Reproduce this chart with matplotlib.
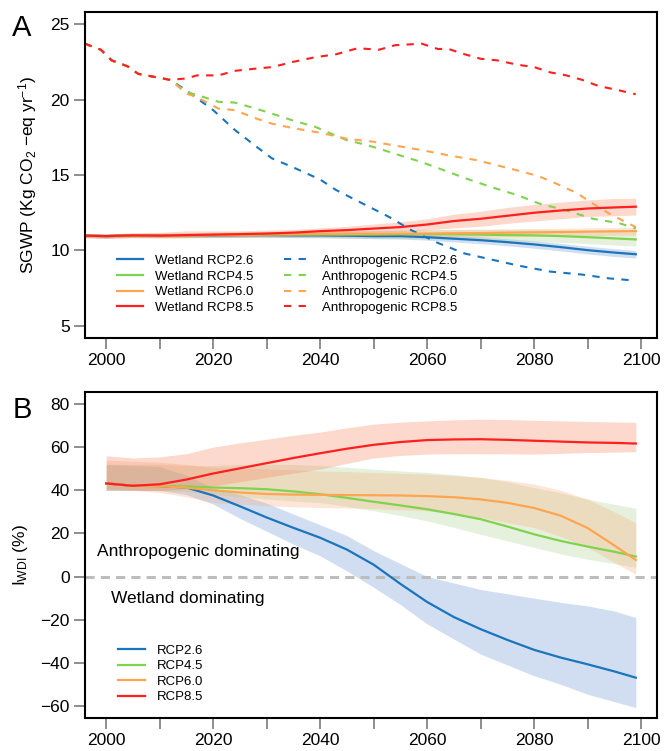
import numpy as np
import matplotlib
matplotlib.use("Agg")
import matplotlib.pyplot as plt
from matplotlib.ticker import MultipleLocator, FuncFormatter

plt.rcParams['font.family'] = ['Liberation Sans', 'DejaVu Sans']
plt.rcParams['mathtext.fontset'] = 'custom'
plt.rcParams['mathtext.rm'] = 'Liberation Sans'
plt.rcParams['mathtext.it'] = 'Liberation Sans:italic'
plt.rcParams['mathtext.bf'] = 'Liberation Sans:bold'

## ---- Panel A data (SGWP) ----
# shared anthropogenic path before the scenarios split
shared_yr = [1996, 1999, 2001, 2004, 2006, 2009]
shared_val = [23.7, 23.3, 22.6, 22.2, 21.7, 21.5]

anth85_yr = [2012, 2015, 2017, 2021, 2024, 2028, 2031, 2035, 2039, 2043, 2047, 2051, 2054,
             2059, 2062, 2064, 2067, 2070, 2073, 2077, 2080, 2083, 2086, 2089, 2092, 2096, 2099]
anth85 = [21.3, 21.4, 21.6, 21.6, 21.9, 22.05, 22.15, 22.5, 22.8, 23.0, 23.4, 23.3, 23.6,
          23.7, 23.35, 23.35, 23.0, 22.7, 22.6, 22.3, 22.15, 21.8, 21.6, 21.3, 20.9, 20.6, 20.35]

anth26_yr = [2012, 2015, 2020, 2024, 2028, 2031, 2035, 2040, 2043, 2048, 2053, 2057, 2062,
             2067, 2072, 2077, 2083, 2089, 2094, 2099]
anth26 = [21.3, 20.6, 19.3, 18.0, 16.9, 16.1, 15.5, 14.7, 14.0, 13.1, 12.2, 11.35, 10.5,
          9.8, 9.4, 9.0, 8.6, 8.4, 8.15, 8.0]

anth45_yr = [2012, 2015, 2017, 2021, 2024, 2028, 2032, 2035, 2039, 2042, 2045, 2048, 2051,
             2054, 2059, 2064, 2067, 2072, 2077, 2081, 2086, 2091, 2096, 2099]
anth45 = [21.3, 20.5, 20.3, 19.85, 19.8, 19.4, 18.95, 18.6, 18.2, 17.75, 17.3, 17.05, 16.75,
          16.4, 15.85, 15.2, 14.8, 14.2, 13.65, 13.1, 12.65, 12.1, 11.8, 11.45]

anth60_yr = [2012, 2015, 2017, 2021, 2024, 2028, 2031, 2035, 2040, 2045, 2050, 2054, 2059,
             2064, 2069, 2073, 2078, 2081, 2084, 2088, 2091, 2094, 2097, 2099]
anth60 = [21.3, 20.4, 20.15, 19.4, 19.3, 18.75, 18.4, 18.1, 17.8, 17.4, 17.2, 16.95, 16.65,
          16.3, 16.0, 15.65, 15.2, 14.9, 14.45, 13.8, 13.1, 12.45, 11.9, 11.55]

wet_yr = [1996, 2000, 2005, 2010, 2015, 2020, 2025, 2030, 2035, 2040, 2045, 2050, 2055,
          2060, 2065, 2070, 2075, 2080, 2085, 2090, 2095, 2099]
wet26 = [10.98, 10.95, 11.0, 10.98, 11.0, 11.0, 11.02, 11.02, 11.0, 11.0, 10.98, 10.95, 10.95,
         10.88, 10.78, 10.68, 10.55, 10.4, 10.22, 10.02, 9.86, 9.75]
wet26_hi = [11.1, 11.07, 11.12, 11.1, 11.12, 11.13, 11.15, 11.15, 11.13, 11.14, 11.13, 11.1, 11.12,
            11.06, 10.98, 10.9, 10.78, 10.64, 10.47, 10.28, 10.12, 10.0]
wet26_lo = [10.86, 10.83, 10.88, 10.86, 10.88, 10.87, 10.88, 10.88, 10.86, 10.85, 10.82, 10.78, 10.76,
            10.68, 10.56, 10.45, 10.31, 10.15, 9.97, 9.77, 9.6, 9.5]

wet45 = [10.98, 10.95, 11.0, 10.98, 11.0, 11.02, 11.03, 11.05, 11.05, 11.05, 11.05, 11.05, 11.07,
         11.08, 11.07, 11.05, 11.02, 11.0, 10.95, 10.88, 10.8, 10.73]
wet45_hi = [11.12, 11.1, 11.15, 11.15, 11.17, 11.2, 11.22, 11.25, 11.27, 11.28, 11.3, 11.32, 11.35,
            11.38, 11.4, 11.4, 11.4, 11.4, 11.38, 11.33, 11.27, 11.22]
wet45_lo = [10.85, 10.82, 10.85, 10.83, 10.84, 10.85, 10.85, 10.85, 10.84, 10.83, 10.81, 10.79, 10.78,
            10.77, 10.73, 10.69, 10.64, 10.6, 10.53, 10.45, 10.36, 10.28]

wet60 = [10.98, 10.95, 11.0, 10.98, 11.0, 11.02, 11.05, 11.07, 11.08, 11.1, 11.1, 11.1, 11.12,
         11.12, 11.14, 11.15, 11.18, 11.2, 11.22, 11.25, 11.27, 11.28]
wet60_hi = [11.12, 11.1, 11.15, 11.14, 11.17, 11.2, 11.23, 11.26, 11.28, 11.3, 11.31, 11.32, 11.35,
            11.36, 11.38, 11.4, 11.43, 11.45, 11.47, 11.5, 11.52, 11.53]
wet60_lo = [10.85, 10.82, 10.86, 10.83, 10.84, 10.85, 10.87, 10.88, 10.88, 10.89, 10.88, 10.87, 10.88,
            10.87, 10.88, 10.89, 10.92, 10.93, 10.95, 10.98, 11.0, 11.02]

wet85 = [10.98, 10.95, 11.0, 10.98, 11.02, 11.05, 11.08, 11.12, 11.18, 11.28, 11.35, 11.45, 11.55,
         11.72, 11.95, 12.1, 12.3, 12.5, 12.65, 12.78, 12.85, 12.9]
wet85_hi = [11.1, 11.1, 11.15, 11.2, 11.3, 11.3, 11.3, 11.35, 11.4, 11.5, 11.6, 11.75, 11.9,
            12.1, 12.4, 12.6, 12.85, 13.05, 13.2, 13.35, 13.45, 13.45]
wet85_lo = [10.85, 10.8, 10.85, 10.85, 10.85, 10.9, 10.9, 10.95, 11.0, 11.05, 11.1, 11.2, 11.25,
            11.35, 11.5, 11.6, 11.8, 11.95, 12.1, 12.25, 12.3, 12.35]

## ---- Panel B data (I_WDI, %) ----
yr_b = [2000, 2005, 2010, 2015, 2020, 2025, 2030, 2035, 2040, 2045, 2050, 2055, 2060,
        2065, 2070, 2075, 2080, 2085, 2090, 2095, 2099]
b26 = [43.2, 42.1, 42.0, 41.3, 37.6, 32.6, 27.4, 22.6, 18.0, 12.5, 5.5, -3.4, -11.8,
       -18.8, -24.4, -29.4, -34.0, -37.6, -40.7, -44, -46.9]
b26_hi = [52, 51.5, 51, 47, 41, 38, 34, 29, 24, 19, 12, 6, 0,
          -3, -6, -8, -10, -12, -13.6, -16, -19]
b26_lo = [40, 40, 40, 38, 33.6, 27, 21, 15, 9.6, 2.6, -5, -13, -22,
          -29, -36, -41, -46, -50, -54.6, -58, -60.8]

b45 = [43.2, 42.1, 42.0, 41.8, 41.3, 41.0, 40.5, 39.5, 38.2, 36.5, 34.7, 33.0, 31.2,
       29.0, 26.6, 23.2, 19.6, 16.5, 13.9, 11.5, 9.3]
b45_hi = [52, 52, 52, 51.5, 51.5, 52, 52, 52, 51.5, 50.7, 49.8, 49, 48.3,
          47.3, 46, 44, 41.3, 38.8, 35.9, 33.5, 31.7]
b45_lo = [40, 40, 40, 39.5, 38, 37, 35.9, 35, 34.3, 32.5, 30.5, 28.3, 25.8,
          22.8, 19.6, 16.5, 13.5, 10.5, 8, 6, 4.2]

b60 = [43.2, 42.1, 42.0, 41.2, 40.0, 39.0, 38.3, 38.0, 37.9, 37.8, 37.7, 37.6, 37.3,
       36.8, 35.8, 34.2, 31.8, 28.2, 22.5, 14.4, 7.7]
b60_hi = [54, 53.5, 53, 52, 50.6, 50.3, 50, 49.5, 49, 48.7, 48.3, 47.9, 47.5,
          46.8, 46, 44.6, 42.9, 40, 35.9, 30, 25]
b60_lo = [40, 40, 39, 37, 34.3, 33.5, 32.8, 32.4, 32, 31.8, 31.5, 31, 30.5,
          29, 27.4, 25, 22.7, 18.5, 13.5, 6.5, 1]

b85 = [43.2, 42.1, 42.8, 45.0, 47.8, 50.2, 52.6, 55.0, 57.2, 59.3, 61.1, 62.4, 63.3,
       63.6, 63.7, 63.4, 63.0, 62.6, 62.2, 62.0, 61.7]
b85_hi = [56, 55, 55.5, 57, 60, 62, 63.7, 65.5, 67, 69, 70.7, 71.6, 72.2,
          72.7, 73, 72.8, 72.5, 72.2, 71.9, 71.7, 71.5]
b85_lo = [40.5, 40, 39.8, 40.8, 42, 44, 46, 48, 49.8, 52.5, 55, 56.2, 56.8,
          57, 57, 56.9, 56.8, 57.1, 57.5, 57.7, 57.9]

rcp_names = ['RCP2.6', 'RCP4.5', 'RCP6.0', 'RCP8.5']
line_cols = ['#1a75bc', '#7fd34e', '#ffa54f', '#ff1f1f']
band_cols = ['#4a7fcf', '#9ccb7a', '#f8a878', '#f7805a']
band_alpha = [0.25, 0.25, 0.28, 0.3]

fig = plt.figure(figsize=(6.64, 7.51), dpi=100)
W, H = 664.0, 751.0
axA = fig.add_axes([85 / W, 1 - 338 / H, 572 / W, 326 / H])
axB = fig.add_axes([85 / W, 1 - 718 / H, 572 / W, 326 / H])


def style_axes(ax):
    for s in ax.spines.values():
        s.set_linewidth(1.5)
        s.set_color('black')
    ax.tick_params(direction='out', length=8, width=1.1, color='#707070',
                   labelsize=12.5, pad=3)
    ax.xaxis.set_major_locator(MultipleLocator(10))
    ax.xaxis.set_major_formatter(FuncFormatter(
        lambda v, p: '%d' % v if int(round(v)) % 20 == 0 else ''))
    ax.set_xlim(1996.04, 2102.96)


## Panel A
wet = [wet26, wet45, wet60, wet85]
wet_hi = [wet26_hi, wet45_hi, wet60_hi, wet85_hi]
wet_lo = [wet26_lo, wet45_lo, wet60_lo, wet85_lo]
anth_yr = [anth26_yr, anth45_yr, anth60_yr, anth85_yr]
anth = [anth26, anth45, anth60, anth85]

for i in range(4):
    axA.fill_between(wet_yr, wet_lo[i], wet_hi[i], color=band_cols[i],
                     alpha=band_alpha[i], lw=0)

h_anth = []
for i in range(4):
    x = shared_yr + anth_yr[i]
    y = shared_val + anth[i]
    h, = axA.plot(x, y, color=line_cols[i], lw=1.5, ls=(0, (3.5, 3.5)),
                  label='Anthropogenic ' + rcp_names[i])
    h_anth.append(h)

h_wet = []
for i in range(4):
    h, = axA.plot(wet_yr, wet[i], color=line_cols[i], lw=1.6,
                  label='Wetland ' + rcp_names[i])
    h_wet.append(h)

style_axes(axA)
axA.set_ylim(4.2, 25.8)
axA.yaxis.set_major_locator(MultipleLocator(5))
axA.set_ylabel(r'SGWP (Kg CO$_2$ $-$eq yr$^{-1}$)', fontsize=12.5)
axA.yaxis.set_label_coords(-0.08, 0.5)
axA.legend(handles=h_wet + h_anth, ncol=2, loc='upper left',
           bbox_to_anchor=(0.056, 0.255), frameon=False, fontsize=9.5,
           handlelength=2.0, handletextpad=0.9, columnspacing=2.3,
           labelspacing=0.25, borderpad=0, borderaxespad=0)

## Panel B
b = [b26, b45, b60, b85]
b_hi = [b26_hi, b45_hi, b60_hi, b85_hi]
b_lo = [b26_lo, b45_lo, b60_lo, b85_lo]
for i in range(4):
    axB.fill_between(yr_b, b_lo[i], b_hi[i], color=band_cols[i],
                     alpha=band_alpha[i], lw=0)
axB.axhline(0, color='#bdbdbd', lw=2.2, ls=(0, (3, 2)))
h_b = []
for i in range(4):
    h, = axB.plot(yr_b, b[i], color=line_cols[i], lw=1.6, label=rcp_names[i])
    h_b.append(h)

style_axes(axB)
axB.set_ylim(-65.6, 85.6)
axB.yaxis.set_major_locator(MultipleLocator(20))
axB.set_ylabel(r'I$_{\mathrm{WDI}}$ (%)', fontsize=12.5)
axB.yaxis.set_label_coords(-0.096, 0.5)
axB.text(1998.3, 11.6, 'Anthropogenic dominating', fontsize=12.5, va='center')
axB.text(2000.9, -10.2, 'Wetland dominating', fontsize=12.5, va='center')
axB.legend(handles=h_b, loc='upper left', bbox_to_anchor=(0.058, 0.225),
           frameon=False, fontsize=9.5, handlelength=2.0, handletextpad=0.9,
           labelspacing=0.25, borderpad=0, borderaxespad=0)

fig.text(22 / W, 1 - 28 / H, 'A', fontsize=21, ha='center', va='center')
fig.text(22 / W, 1 - 410 / H, 'B', fontsize=21, ha='center', va='center')

fig.savefig('out.png', dpi=100)
